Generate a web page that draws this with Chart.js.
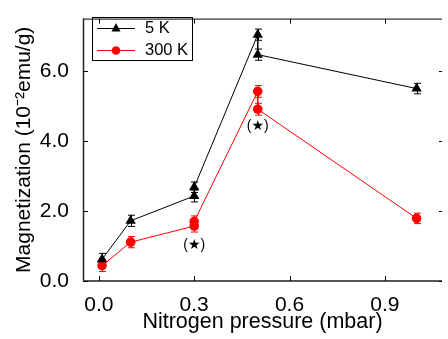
<!DOCTYPE html>
<html>
<head>
<meta charset="utf-8">
<script src="https://cdn.jsdelivr.net/npm/chart.js@4"></script>
<style>
html,body{margin:0;padding:0;background:#fff;}
#wrap{width:448px;height:339px;position:relative;}
</style>
</head>
<body>
<div id="wrap"><canvas id="c" width="448" height="339"></canvas></div>
<script>
// ---- data ----
const pressure5K = [0.01, 0.1, 0.3, 0.3, 0.5, 0.5, 1.0];
const mag5K      = [0.62, 1.72, 2.43, 2.68, 7.04, 6.47, 5.50];
const err5K      = [0.17, 0.16, 0.17, 0.15, 0.16, 0.16, 0.15];

const pressure300K = [0.01, 0.1, 0.3, 0.3, 0.5, 0.5, 1.0];
const mag300K      = [0.44, 1.11, 1.57, 1.70, 5.42, 4.91, 1.79];
const err300K      = [0.17, 0.16, 0.17, 0.16, 0.17, 0.17, 0.15];

const xTicks = [0.0, 0.3, 0.6, 0.9];
const yTicks = [0.0, 2.0, 4.0, 6.0];

const seriesLabels = ['5 K', '300 K'];
const annotX = [0.3, 0.5];
const annotY = [1.02, 4.44];
const annotText = '(\u2605)';

const FONT = "'Liberation Sans', Arial, Helvetica, sans-serif";

function pts(xs, ys) { return xs.map((x, i) => ({x: x, y: ys[i]})); }

const errorBars = {
  id: 'errorBars',
  beforeDatasetsDraw(chart) {
    const ctx = chart.ctx;
    const xs = chart.scales.x, ys = chart.scales.y;
    chart.data.datasets.forEach((ds) => {
      const errs = ds.errors;
      ctx.save();
      ctx.strokeStyle = ds.borderColor;
      ctx.lineWidth = 1;
      ds.data.forEach((p, i) => {
        const px = Math.round(xs.getPixelForValue(p.x)) + 0.5;
        const top = ys.getPixelForValue(p.y + errs[i]);
        const bot = ys.getPixelForValue(p.y - errs[i]);
        ctx.beginPath();
        ctx.moveTo(px, top); ctx.lineTo(px, bot);
        ctx.moveTo(px - 3.5, top); ctx.lineTo(px + 3.5, top);
        ctx.moveTo(px - 3.5, bot); ctx.lineTo(px + 3.5, bot);
        ctx.stroke();
      });
      ctx.restore();
    });
  }
};

const frame = {
  id: 'frame',
  afterDraw(chart) {
    const ctx = chart.ctx;
    const a = chart.chartArea;
    const xs = chart.scales.x, ys = chart.scales.y;
    ctx.save();
    // frame
    ctx.strokeStyle = '#000';
    ctx.lineWidth = 1;
    ctx.beginPath();
    ctx.moveTo(a.left, a.top + 0.5); ctx.lineTo(a.right, a.top + 0.5);
    ctx.stroke();
    ctx.strokeStyle = '#222';
    ctx.lineWidth = 1.5;
    ctx.beginPath();
    ctx.moveTo(a.left + 0.5, a.top); ctx.lineTo(a.left + 0.5, a.bottom);
    ctx.stroke();
    ctx.strokeStyle = '#555';
    ctx.lineWidth = 2;
    ctx.beginPath();
    ctx.moveTo(a.left, a.bottom); ctx.lineTo(a.right, a.bottom);
    ctx.stroke();
    // inward ticks
    ctx.strokeStyle = '#000';
    ctx.lineWidth = 1;
    ctx.beginPath();
    xTicks.forEach(v => {
      const px = Math.round(xs.getPixelForValue(v)) + 0.5;
      ctx.moveTo(px, a.bottom); ctx.lineTo(px, a.bottom - 5);
      ctx.moveTo(px, a.top); ctx.lineTo(px, a.top + 5);
    });
    yTicks.forEach(v => {
      const py = Math.round(ys.getPixelForValue(v)) + 0.5;
      ctx.moveTo(a.left, py); ctx.lineTo(a.left + 5, py);
      ctx.moveTo(a.right, py); ctx.lineTo(a.right - 3, py);
    });
    ctx.stroke();
    // annotations
    ctx.fillStyle = '#000';
    ctx.font = "14px 'Liberation Sans', 'DejaVu Sans', sans-serif";
    ctx.textAlign = 'center';
    ctx.textBaseline = 'middle';
    annotX.forEach((v, i) => {
      ctx.fillText(annotText, xs.getPixelForValue(v), ys.getPixelForValue(annotY[i]));
    });
    // legend
    const lx = 92, ly = 17, lw = 100, lh = 43;
    ctx.strokeStyle = '#000';
    ctx.lineWidth = 1;
    ctx.strokeRect(lx + 0.5, ly + 0.5, lw, lh);
    chart.data.datasets.forEach((ds, i) => {
      const y = ly + (i === 0 ? 11 : 33) + 0.5;
      ctx.strokeStyle = ds.borderColor;
      ctx.lineWidth = 1;
      ctx.beginPath();
      ctx.moveTo(97, y); ctx.lineTo(135, y);
      ctx.stroke();
      ctx.fillStyle = ds.borderColor;
      if (ds.pointStyle === 'triangle') {
        ctx.beginPath();
        ctx.moveTo(116, y - 5.5); ctx.lineTo(120.5, y + 3); ctx.lineTo(111.5, y + 3);
        ctx.closePath(); ctx.fill();
      } else {
        ctx.beginPath(); ctx.arc(116, y, 4.3, 0, Math.PI * 2); ctx.fill();
      }
      ctx.fillStyle = '#000';
      ctx.font = "16.5px " + FONT;
      ctx.textAlign = 'left';
      ctx.textBaseline = 'middle';
      ctx.fillText(ds.label, 145, y);
    });
    ctx.restore();
  }
};

new Chart(document.getElementById('c'), {
  type: 'scatter',
  data: {
    datasets: [
      {
        label: seriesLabels[0],
        data: pts(pressure5K, mag5K),
        errors: err5K,
        showLine: true,
        borderColor: '#000000',
        backgroundColor: '#000000',
        borderWidth: 1,
        pointStyle: 'triangle',
        pointRadius: 6,
        pointBorderWidth: 0,
        tension: 0
      },
      {
        label: seriesLabels[1],
        data: pts(pressure300K, mag300K),
        errors: err300K,
        showLine: true,
        borderColor: '#ff0000',
        backgroundColor: '#ff0000',
        borderWidth: 1,
        pointStyle: 'circle',
        pointRadius: 4.8,
        pointBorderWidth: 0,
        tension: 0
      }
    ]
  },
  options: {
    responsive: false,
    animation: false,
    events: [],
    layout: {padding: {top: 7, right: 0, left: 0, bottom: 0}},
    plugins: {legend: {display: false}, tooltip: {enabled: false}},
    scales: {
      x: {
        type: 'linear',
        min: -0.05,
        max: 1.08,
        afterBuildTicks: (s) => { s.ticks = xTicks.map(v => ({value: v})); },
        afterFit: (s) => { s.height = 58; },
        grid: {display: false},
        border: {display: false},
        ticks: {
          color: '#000',
          padding: 4,
          font: {family: FONT, size: 21},
          callback: (v) => Number(v).toFixed(1)
        },
        title: {
          display: true,
          text: 'Nitrogen pressure (mbar)',
          color: '#000',
          font: {family: FONT, size: 21.5},
          padding: {top: 0, bottom: 4}
        }
      },
      y: {
        type: 'linear',
        min: 0,
        max: 7.5,
        afterBuildTicks: (s) => { s.ticks = yTicks.map(v => ({value: v})); },
        afterFit: (s) => { s.width = 83; },
        grid: {display: false},
        border: {display: false},
        ticks: {
          color: '#000',
          padding: 6,
          font: {family: FONT, size: 21},
          callback: (v) => Number(v).toFixed(1)
        },
        title: {
          display: true,
          text: 'Magnetization (10\u207B\u00B2emu/g)',
          color: '#000',
          font: {family: FONT, size: 21},
          padding: {top: 12, bottom: 0}
        }
      }
    }
  },
  plugins: [errorBars, frame]
});
</script>
</body>
</html>
